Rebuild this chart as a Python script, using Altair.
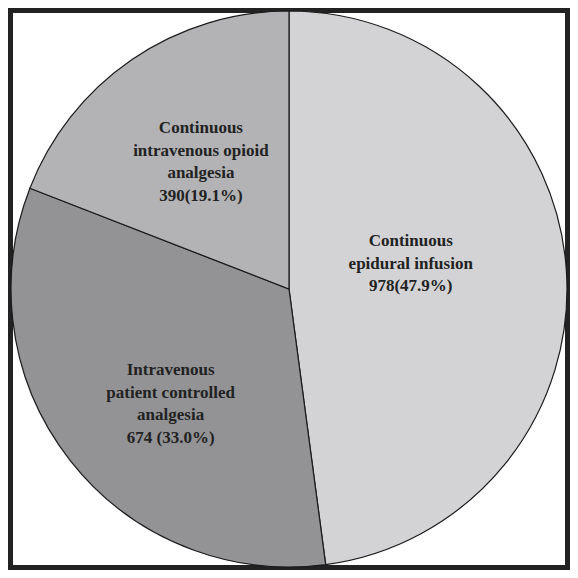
import altair as alt
import pandas as pd

cats = [
    "Continuous epidural infusion",
    "Intravenous patient controlled analgesia",
    "Continuous intravenous opioid analgesia",
]
values = [978, 674, 390]
labels = [
    "Continuous\nepidural infusion\n978(47.9%)",
    "Intravenous\npatient controlled\nanalgesia\n674 (33.0%)",
    "Continuous\nintravenous opioid\nanalgesia\n390(19.1%)",
]
colors = ["#d3d3d5", "#939396", "#b3b3b6"]

total = sum(values)
df = pd.DataFrame({"cat": cats, "value": values, "label": labels, "idx": list(range(len(cats)))})

theta_scale = alt.Scale(domain=[0, total], nice=False, zero=True)

frame = alt.Chart(pd.DataFrame({"f": [0]})).mark_rect(
    fill="white", stroke="#222222", strokeWidth=5
).encode(x=alt.value(2.5), x2=alt.value(559.5), y=alt.value(2.5), y2=alt.value(559.5))

pie = alt.Chart(df).mark_arc(radius=278, stroke="#1a1a1a", strokeWidth=1.2).encode(
    theta=alt.Theta("value:Q", stack=True, scale=theta_scale),
    order=alt.Order("idx:Q"),
    color=alt.Color("cat:N", scale=alt.Scale(domain=cats, range=colors), legend=None),
)

base = alt.Chart(df).transform_window(
    cum="sum(value)", sort=[alt.SortField("idx")], frame=[None, 0]
).transform_calculate(mid="datum.cum - datum.value / 2")

LH = 22.5
# label placement (radius along mid-angle, small nudges); n = number of lines
place = [(122, 0, -17, 3), (162, 9, 15, 4), (156, 0, 2, 4)]
layers = [frame, pie]
for i, (r, dx, dy, n) in enumerate(place):
    layers.append(
        base.transform_filter(alt.datum.idx == i)
        .mark_text(
            radius=r, dx=dx, dy=dy - (n - 1) * LH / 2, lineBreak="\n",
            font="Times New Roman, Liberation Serif, serif",
            fontWeight="bold", fontSize=17, lineHeight=LH, color="#222222",
            align="center", baseline="middle",
        )
        .encode(theta=alt.Theta("mid:Q", scale=theta_scale), text="label:N")
    )

chart = alt.layer(*layers).resolve_scale(theta="independent").properties(
    width=562, height=562, padding=0, autosize=alt.AutoSizeParams(type="none")
).configure_view(stroke=None).configure(background="white")

chart.save("out.html", embed_options={"renderer": "svg", "actions": False})
